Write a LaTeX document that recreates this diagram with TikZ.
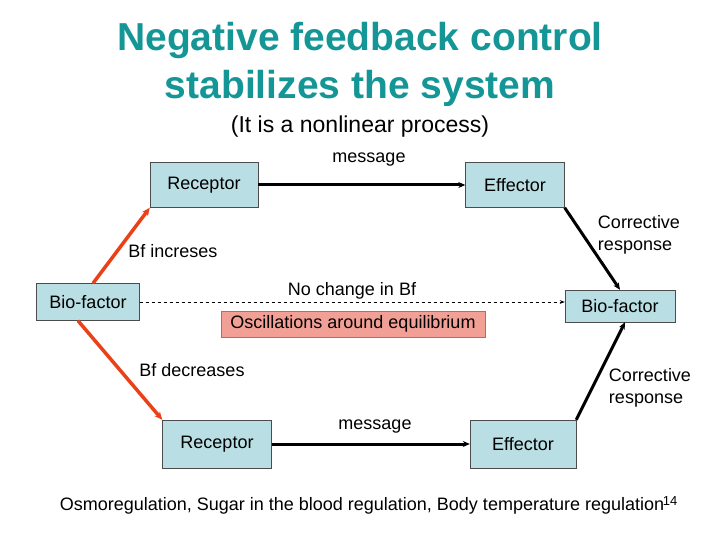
\documentclass[tikz,border=0pt]{standalone}
\usepackage{fontspec}
\setmainfont{Liberation Sans}
\usetikzlibrary{arrows.meta}
\definecolor{boxc}{RGB}{185,222,228}
\definecolor{pinkc}{RGB}{242,160,150}
\definecolor{titc}{RGB}{20,150,150}
\definecolor{redc}{RGB}{235,65,25}
\begin{document}
\begin{tikzpicture}[x=1pt,y=-1pt,
  bx/.style={draw=black!70,fill=boxc,font=\fontsize{18}{20}\selectfont},
  lbl/.style={font=\fontsize{18}{22}\selectfont,align=left},
  blk/.style={line width=3pt,-{Stealth[length=7pt,width=6pt]}},
  rd/.style={line width=3.5pt,redc,-{Stealth[length=8pt,width=7pt]}}]
\useasboundingbox (0,0) rectangle (720,540);
\node (title) [font=\bfseries\fontsize{39}{48}\selectfont,text=titc,align=center] at (360,64) {Negative feedback control\\stabilizes the system};
\node (sub) [font=\fontsize{23}{26}\selectfont] at (360,127) {(It is a nonlinear process)};
\node (r1) [bx,minimum width=108pt,minimum height=45pt] at (204,185) {Receptor};
\node (e1) [bx,minimum width=99pt,minimum height=45pt] at (515,185) {Effector};
\node (b1) [bx,minimum width=103pt,minimum height=37pt] at (88,302) {Bio-factor};
\node (b2) [bx,minimum width=110pt,minimum height=32pt] at (620,306) {Bio-factor};
\node (osc) [draw=black!50,fill=pinkc,minimum width=264pt,minimum height=26pt,font=\fontsize{18}{20}\selectfont] at (353,324) {Oscillations around equilibrium};
\node (r2) [bx,minimum width=109pt,minimum height=48pt] at (217,444) {Receptor};
\node (e2) [bx,minimum width=106pt,minimum height=48pt] at (523,444) {Effector};
\node (m1) [lbl] at (369,160) {message};
\node (m2) [lbl] at (375,427) {message};
\node (ci) [lbl] at (173,251) {Bf increses};
\node (cd) [lbl] at (192,370) {Bf decreases};
\node (nc) [lbl] at (352,291) {No change in Bf};
\node (cr1) [lbl] at (639,235) {Corrective\\response};
\node (cr2) [lbl] at (650,388) {Corrective\\response};
\node (foot) [font=\fontsize{18}{21}\selectfont] at (362,506) {Osmoregulation, Sugar in the blood regulation, Body temperature regulation};
\node (pg) [font=\fontsize{13}{15}\selectfont] at (670,501) {14};
\draw[blk] (r1.east) -- (e1.west);
\draw[blk] (r2.east) -- (e2.west);
\draw[blk] (e1.south east) -- (b2.north);
\draw[blk] (e2.north east) -- ([xshift=5pt]b2.south);
\draw[rd] ([xshift=5pt]b1.north) -- (r1.south west);
\draw[rd] ([xshift=-10pt]b1.south) -- (r2.north west);
\draw[dashed,line width=1pt,-{Stealth[length=5pt]}] (b1.east) -- (b2.west|-b1.east);
\end{tikzpicture}
\end{document}
